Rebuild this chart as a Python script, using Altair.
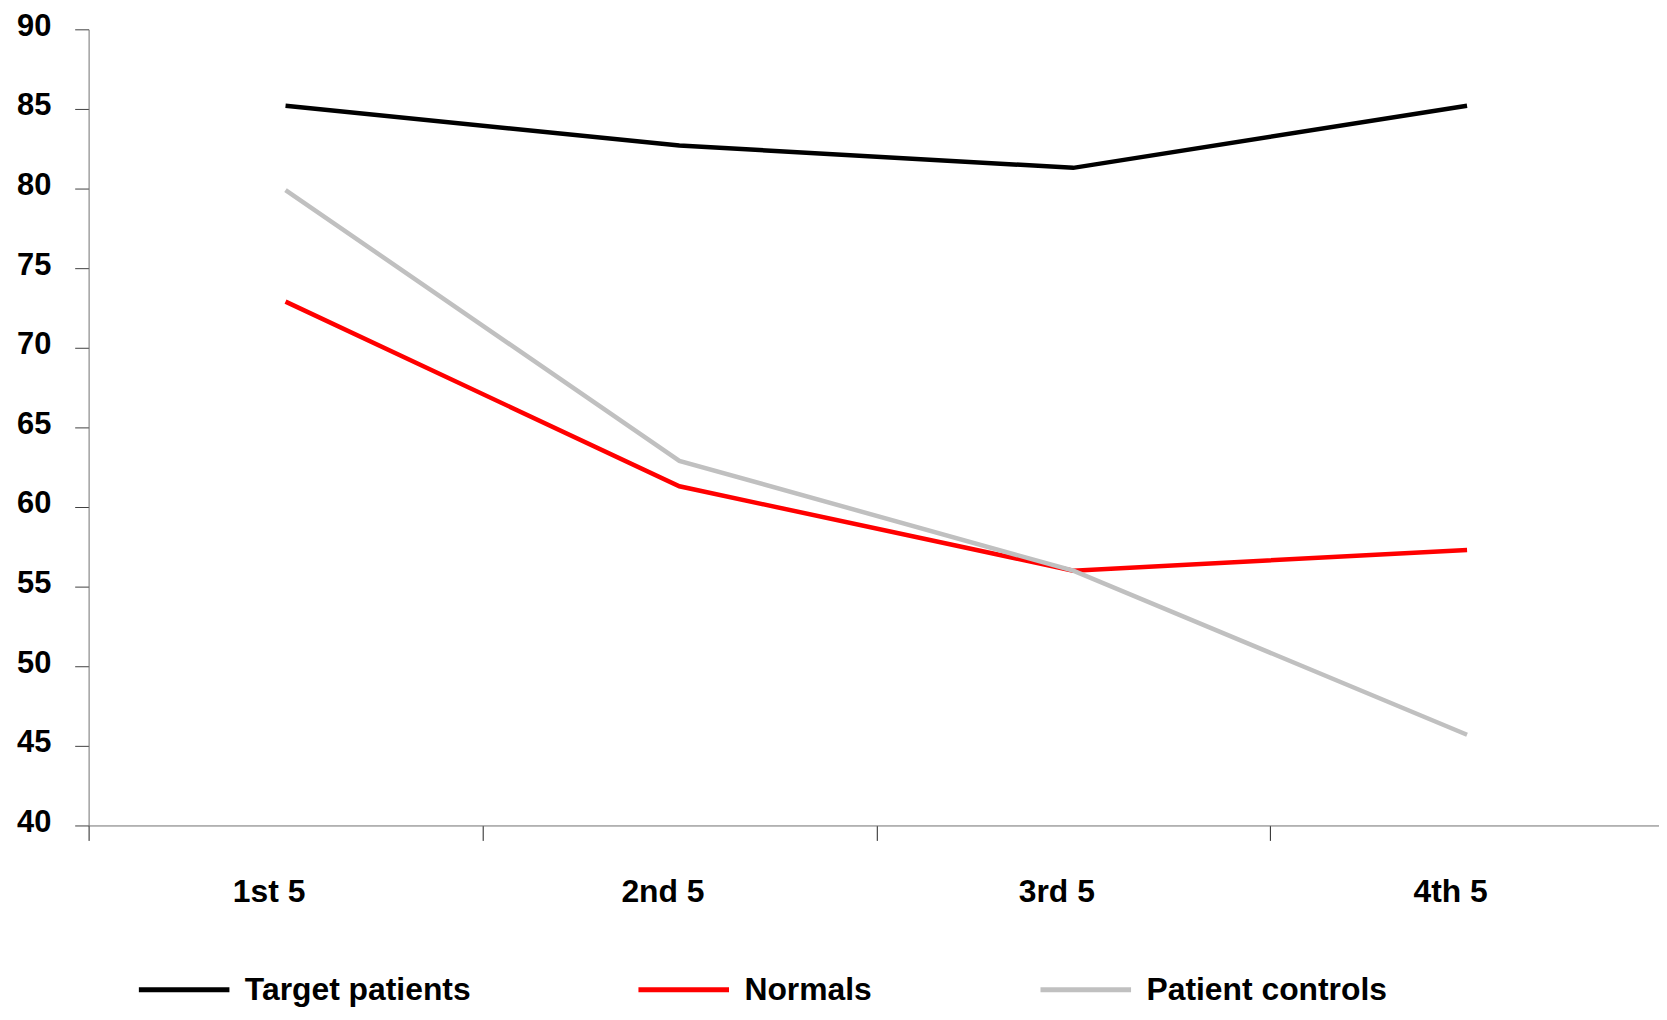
import altair as alt
import pandas as pd

categories = ["1st 5", "2nd 5", "3rd 5", "4th 5"]
series_names = ["Target patients", "Normals", "Patient controls"]
target_patients = [85.2, 82.7, 81.3, 85.2]
normals = [72.9, 61.3, 56.0, 57.3]
patient_controls = [79.9, 62.9, 56.0, 45.7]
y_ticks = [40, 45, 50, 55, 60, 65, 70, 75, 80, 85, 90]
colors = ["#000000", "#ff0000", "#c0c0c0"]

rows = []
for name, vals in zip(series_names, [target_patients, normals, patient_controls]):
    for c, v in zip(categories, vals):
        rows.append({"block": c, "value": v, "series": name})
df = pd.DataFrame(rows)

FONT = "Liberation Sans"

chart = alt.Chart(df).mark_line(strokeWidth=4.5).encode(
    x=alt.X("block:N", sort=categories, title=None,
            scale=alt.Scale(paddingInner=0, paddingOuter=0),
            axis=alt.Axis(labelAngle=0, tickBand="extent", tickSize=15,
                          labelPadding=36, labelOffset=-17,
                          labelFontSize=32, labelFontWeight="bold", labelFont=FONT,
                          labelColor="#000000", domainColor="#707070", tickColor="#202020",
                          grid=False)),
    y=alt.Y("value:Q", title=None,
            scale=alt.Scale(domain=[40, 90], nice=False, zero=False),
            axis=alt.Axis(values=y_ticks, tickSize=14, labelPadding=24, labelOffset=-3,
                          labelFontSize=31, labelFontWeight="bold", labelFont=FONT,
                          labelColor="#000000", domainColor="#707070", tickColor="#404040",
                          grid=False)),
    color=alt.Color("series:N", sort=series_names,
                    scale=alt.Scale(domain=series_names, range=colors),
                    legend=alt.Legend(title=None, orient="none", direction="horizontal",
                                      legendX=48, legendY=917,
                                      symbolType="stroke", symbolSize=8281,
                                      symbolStrokeWidth=5, labelOffset=13,
                                      columnPadding=158, labelLimit=600,
                                      labelFontSize=32, labelFontWeight="bold",
                                      labelFont=FONT, labelColor="#000000")),
).properties(
    width=1583, height=800,
    autosize=alt.AutoSizeParams(type="none"),
    padding={"left": 81, "top": 19, "right": -5, "bottom": 184},
).configure_view(stroke=None)

chart.save("out.html", embed_options={"renderer": "svg", "actions": False})
